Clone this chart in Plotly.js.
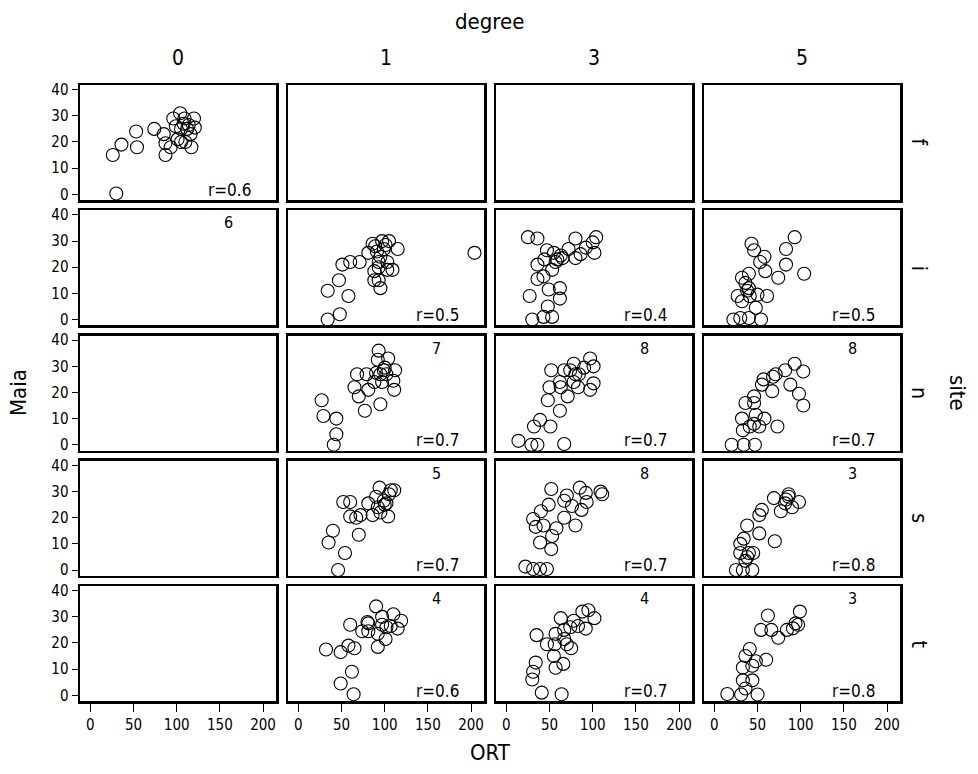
<!DOCTYPE html>
<html><head><meta charset="utf-8">
<script src="https://cdn.plot.ly/plotly-3.0.1.min.js"></script>
<style>body{margin:0;background:#fff}</style>
</head><body><div id="chart" style="width:978px;height:774px"></div>
<script>
// ---------- DATA ----------
const siteNames = ['f', 'i', 'n', 's', 't'];
const degreeNames = ['0', '1', '3', '5'];
const xTickVals = [0, 50, 100, 150, 200];
const yTickVals = [0, 10, 20, 30, 40];

// site f, degree 0
const f0_ort  = [26,36,30,53,54,74,85,87,93,87,96,104,99,101,108,112,120,121,116,117,110,105,109,105,114];
const f0_maia = [15,19,0.3,24,18,25,23,19.5,18,15,29,31,26,21,27,25,29,25.5,23,18,20,20,29,25,26.5];
// site i
const i1_ort  = [34,48,34,47,58,51,60,71,81,86,97,105,115,91,95,93,103,109,103,88,88,93,95,99,101,204,89,93];
const i1_maia = [0,2,11,15,9,21,22,22,25.5,29,30,30,27,26,24,22,22,19,19,18.5,15,15,12,27,28.5,25.5,28,20];
const i3_ort  = [25,36,30,43,53,48,27,49,62,62,36,43,36,44,53,47,55,65,59,63,72,80,80,86,92,102,100,104,57];
const i3_maia = [31.5,31,0,1,1,5,9,11.5,12,8,15.5,16.5,21,23,19,26.5,25.5,23.5,23,24.5,27,31,23.5,25,27.5,25.5,29.5,31.5,22];
const i5_ort  = [22,30,40,54,48,32,27,41,50,61,40,36,32,40,43,46,58,53,59,74,83,83,93,104,38];
const i5_maia = [0,0.6,0.6,0,4.5,7,9,9,9.5,9,12,14,16,17.5,29,26.5,24,22,18.5,16,27,21,31.5,17.5,11];
// site n
const n1_ort  = [41,44,44,29,27,77,95,70,65,81,68,79,93,92,104,112,111,110,99,95,90,88,97,102,100];
const n1_maia = [0,4,10,11,17,13,15.5,18.5,22,21,27,27,36,32.5,33,28.5,21,24.5,28.5,27,27.5,24,24,27,29.5];
const n3_ort  = [14,29,36,67,32,39,51,62,48,50,71,63,52,67,74,78,78,84,83,90,97,101,101,97,80,62];
const n3_maia = [1.5,0,0,0.3,7,9.5,7,13,17,22,18.5,22,28.5,28.5,28.5,31,24,27,22,29.5,33,30,23.5,21,27,24];
const n5_ort  = [20,34,47,33,32,41,52,48,58,73,36,46,46,67,55,57,68,71,82,93,103,88,98,103,46];
const n5_maia = [0,0,0,5.5,10,7,7,11.5,10,7,16,16,18.5,20.5,23,25,26,27,28.5,31,28,23,19.5,15,8];
// site s
const s1_ort  = [46,54,35,40,70,52,60,60,67,72,81,86,90,94,95,104,99,102,107,111,105,92,100];
const s1_maia = [0,6.5,10.5,15,13.5,26,26,20.5,20,21,25.5,21,28,31.5,22,20.5,26.5,25.5,30.5,30.5,29,24,25];
const s3_ort  = [22,31,39,47,39,52,53,58,43,34,31,40,49,52,67,80,67,70,76,85,92,93,87,109,111];
const s3_maia = [1.3,0.4,0.4,0.4,10.5,8,13,16,17,16.5,19.5,22.5,25,31,20,17,26.5,28.5,24.5,31.5,29.5,26,23,30,29];
const s5_ort  = [25,33,44,36,30,40,45,38,30,34,52,70,38,52,55,69,77,83,86,86,90,98,82];
const s5_maia = [0,0,0,3.5,6.5,6.5,6.5,5,10,12,14,11,17,21,23,27.5,22.5,27,29,28,24,26,25.5];
// site t
const t1_ort  = [64,49,62,32,49,58,65,92,60,74,81,80,90,97,110,119,97,102,115,101,92,107,81];
const t1_maia = [0.4,4.5,9,17.5,16.5,19,18,18.5,27,24.5,24.5,28,34,30,31,28.5,27,26,25.5,21.5,23.5,26.5,27.5];
const t3_ort  = [41,64,30,31,34,57,66,55,35,47,56,57,67,75,67,70,63,74,78,83,92,88,95,102];
const t3_maia = [1,0.4,6,9,12.5,10.5,12,15,23,19.5,19.5,23.5,21.5,18,25,19.5,29.5,26,28.5,26.5,25.5,32,32.5,29.5];
const t5_ort  = [15,31,50,36,33,44,33,44,36,41,60,48,54,62,66,84,74,94,91,99,97];
const t5_maia = [0.5,0.3,0.3,2.6,5.7,5.7,10.6,11.3,15,17.7,13.6,13,25,30.5,25,25,22,27.5,25.6,32,27];

// panel annotations (row-major: site x degree)
const topLabels = ['', '', '', '',
                   '6', '', '', '',
                   '', '7', '8', '8',
                   '', '5', '8', '3',
                   '', '4', '4', '3'];
const rLabels = ['r=0.6', '', '', '',
                 '', 'r=0.5', 'r=0.4', 'r=0.5',
                 '', 'r=0.7', 'r=0.7', 'r=0.7',
                 '', 'r=0.7', 'r=0.7', 'r=0.8',
                 '', 'r=0.6', 'r=0.7', 'r=0.8'];

// panel -> data lookup (row-major)
const panelOrt  = [f0_ort, [], [], [],  [], i1_ort, i3_ort, i5_ort,  [], n1_ort, n3_ort, n5_ort,  [], s1_ort, s3_ort, s5_ort,  [], t1_ort, t3_ort, t5_ort];
const panelMaia = [f0_maia, [], [], [], [], i1_maia, i3_maia, i5_maia, [], n1_maia, n3_maia, n5_maia, [], s1_maia, s3_maia, s5_maia, [], t1_maia, t3_maia, t5_maia];

// ---------- LAYOUT ----------
const FONT = '"DejaVu Sans Condensed", "Liberation Sans Narrow", "Roboto Condensed", "Arial Narrow", sans-serif';
const W = 978, H = 774;
const mL = 80, mR = 78, mT = 85, mB = 73;
const pw = W - mL - mR, ph = H - mT - mB;
const colStep = 208, colW = 196;
const rowStep = 125.25, rowH = 115;

const layout = {
  width: W, height: H,
  margin: {l: mL, r: mR, t: mT, b: mB, pad: 0},
  paper_bgcolor: '#fff', plot_bgcolor: '#fff',
  showlegend: false,
  font: {family: FONT, color: '#000', size: 15},
  annotations: []
};
const traces = [];

for (let r = 0; r < 5; r++) {
  for (let c = 0; c < 4; c++) {
    const k = r * 4 + c + 1;
    const xa = 'xaxis' + (k === 1 ? '' : k), ya = 'yaxis' + (k === 1 ? '' : k);
    const xid = 'x' + (k === 1 ? '' : k), yid = 'y' + (k === 1 ? '' : k);
    const x0 = (c * colStep) / pw, x1 = (c * colStep + colW) / pw;
    const topPx = r * rowStep, botPx = topPx + rowH;
    const y1 = 1 - topPx / ph, y0 = 1 - botPx / ph;
    const bottomRow = r === 4, leftCol = c === 0;
    layout[xa] = {
      domain: [x0, Math.min(x1, 1)], anchor: yid, range: [-12, 215],
      showgrid: false, zeroline: false, showline: true, mirror: true,
      linecolor: '#000', linewidth: 2.5,
      tickvals: xTickVals, ticktext: xTickVals.map(String),
      ticks: bottomRow ? 'outside' : '', ticklen: 8, tickwidth: 1, tickcolor: '#000',
      showticklabels: bottomRow, tickfont: {size: 15, family: FONT},
      fixedrange: true
    };
    layout[ya] = {
      domain: [Math.max(y0, 0), y1], anchor: xid, range: [-2.2, 41.8],
      showgrid: false, zeroline: false, showline: true, mirror: true,
      linecolor: '#000', linewidth: 2.5,
      tickvals: yTickVals, ticktext: yTickVals.map(String),
      ticks: leftCol ? 'outside' : '', ticklen: 6, tickwidth: 1, tickcolor: '#000',
      showticklabels: leftCol, tickfont: {size: 15, family: FONT},
      fixedrange: true
    };
    traces.push({
      type: 'scatter', mode: 'markers', xaxis: xid, yaxis: yid,
      x: panelOrt[k - 1], y: panelMaia[k - 1],
      marker: {symbol: 'circle-open', size: 13, color: '#000', line: {width: 1.1, color: '#000'}},
      hoverinfo: 'x+y', cliponaxis: false
    });
    if (topLabels[k - 1]) {
      layout.annotations.push({
        xref: xid + ' domain', yref: yid + ' domain', x: 0.76, y: 0.99,
        xanchor: 'center', yanchor: 'top', text: topLabels[k - 1], showarrow: false,
        font: {size: 16, family: FONT}
      });
    }
    if (rLabels[k - 1]) {
      layout.annotations.push({
        xref: xid + ' domain', yref: yid + ' domain', x: 0.885, y: -0.015,
        xanchor: 'right', yanchor: 'bottom', text: rLabels[k - 1], showarrow: false,
        font: {size: 17, family: FONT}
      });
    }
  }
}

// column headers (degree levels)
for (let c = 0; c < 4; c++) {
  layout.annotations.push({
    xref: 'paper', yref: 'paper', x: (c * colStep + colW / 2) / pw, y: 1 + 27 / ph,
    xanchor: 'center', yanchor: 'middle', text: degreeNames[c], showarrow: false,
    font: {size: 21, family: FONT}
  });
}
// row headers (site levels)
for (let r = 0; r < 5; r++) {
  layout.annotations.push({
    xref: 'paper', yref: 'paper', x: 1 + 19 / pw, y: 1 - (r * rowStep + rowH / 2) / ph,
    xanchor: 'center', yanchor: 'middle', text: siteNames[r], showarrow: false,
    textangle: 90, font: {size: 21, family: FONT}
  });
}
// titles
layout.annotations.push(
  {xref: 'paper', yref: 'paper', x: (489 - mL) / pw, y: 1 + 63 / ph,
   xanchor: 'center', yanchor: 'middle', text: 'degree', showarrow: false, font: {size: 22, family: FONT}},
  {xref: 'paper', yref: 'paper', x: (490 - mL) / pw, y: -(752 - mT - ph) / ph,
   xanchor: 'center', yanchor: 'middle', text: 'ORT', showarrow: false, font: {size: 22, family: FONT}},
  {xref: 'paper', yref: 'paper', x: -(mL - 18) / pw, y: 1 - (393 - mT) / ph,
   xanchor: 'center', yanchor: 'middle', text: 'Maia', textangle: -90, showarrow: false, font: {size: 22, family: FONT}},
  {xref: 'paper', yref: 'paper', x: 1 + (958 - mL - pw) / pw, y: 1 - (393 - mT) / ph,
   xanchor: 'center', yanchor: 'middle', text: 'site', textangle: 90, showarrow: false, font: {size: 22, family: FONT}}
);

Plotly.newPlot('chart', traces, layout, {displayModeBar: false, staticPlot: true});
</script>
</body></html>
